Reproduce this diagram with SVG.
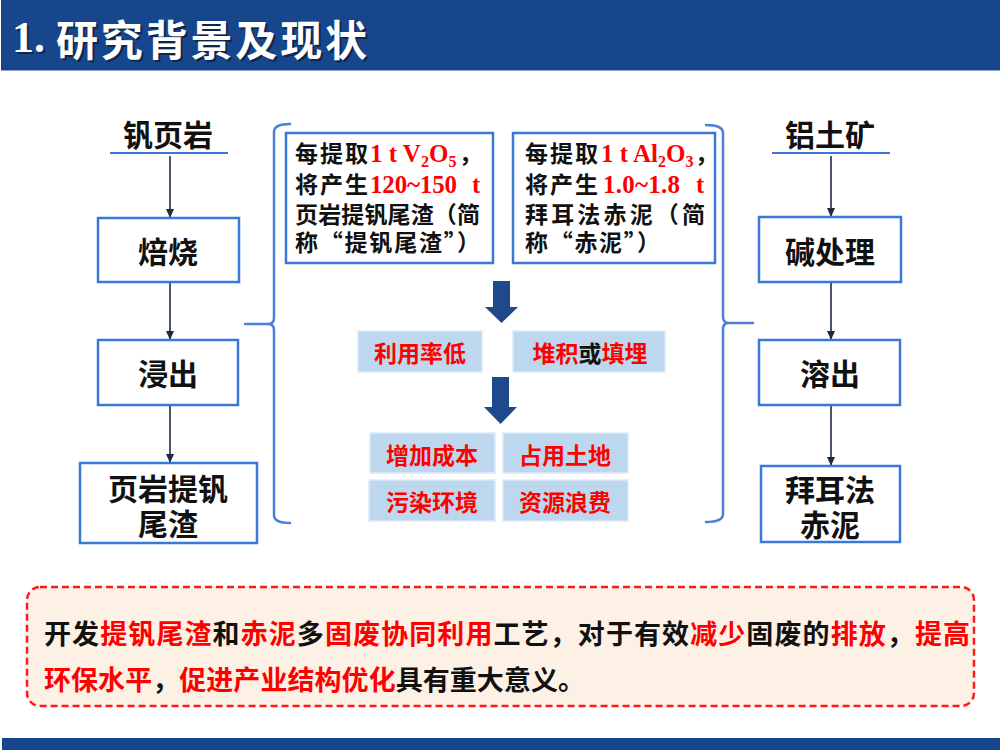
<svg xmlns="http://www.w3.org/2000/svg" width="1000" height="750" viewBox="0 0 1000 750">
<style>
.cjk{font-family:"Noto Sans CJK SC","Noto Sans",sans-serif;font-weight:700}
.ser{font-family:"Liberation Serif","Times New Roman",serif;font-weight:700}
.red{fill:#FF0000}
.node{fill:#FFFFFF;stroke:#3A78D6;stroke-width:2.5}
.tag{fill:#BDD7EE;stroke:#DCEAF8;stroke-width:1.5}
.lbl{font-size:30px;fill:#111111;text-anchor:middle;dominant-baseline:central}
.tagt{font-size:23px;fill:#FF0000;text-anchor:middle;dominant-baseline:central}
.box{font-size:23px;fill:#111111}
.conn{stroke:#1F2A44;stroke-width:1.6;fill:none;marker-end:url(#ah)}
.brace{stroke:#4A80DA;stroke-width:2.5;fill:none;stroke-linecap:round}
.under{stroke:#3A78D6;stroke-width:2}
.barrow{fill:#1E4A8C}
</style>
<defs>
<marker id="ah" markerWidth="10" markerHeight="10" refX="8" refY="5" orient="auto" markerUnits="userSpaceOnUse">
<path d="M0,1 L9,5 L0,9 Z" fill="#1F2A44"/>
</marker>
</defs>
<rect x="0" y="0" width="1000" height="750" fill="#FFFFFF"/>
<g id="header">
<rect x="1" y="0" width="999" height="70" fill="#17468C"/>
<line x1="1" y1="70.5" x2="1000" y2="70.5" stroke="#8FA6C9" stroke-width="1"/>
<g opacity="0.45" transform="translate(2,2)">
<text x="12" y="52" class="ser" font-size="44" fill="#000">1.</text>
<text x="56" y="37" class="cjk" font-size="42" fill="#000" dominant-baseline="central" textLength="311" lengthAdjust="spacing">研究背景及现状</text>
</g>
<text x="12" y="52" class="ser" font-size="44" fill="#FFFFFF">1.</text>
<text x="56" y="37" class="cjk" font-size="42" fill="#FFFFFF" dominant-baseline="central" textLength="311" lengthAdjust="spacing">研究背景及现状</text>
</g>
<rect id="footer-bar" x="2" y="738" width="998" height="12" fill="#17468C"/>

<g id="connectors">
<line class="conn" x1="170" y1="156" x2="170" y2="217"/>
<line class="conn" x1="170" y1="282" x2="170" y2="339"/>
<line class="conn" x1="170" y1="405" x2="170" y2="462"/>
<line class="conn" x1="831" y1="156" x2="831" y2="216"/>
<line class="conn" x1="831" y1="282" x2="831" y2="339"/>
<line class="conn" x1="831" y1="405" x2="831" y2="465"/>
<path class="brace" d="M290,124 Q274,124 274,132 V318 Q274,324 268,324 H245 M268,324 Q274,324 274,330 V515 Q274,523 290,523"/>
<path class="brace" d="M706,125 Q723,125 723,133 V317 Q723,323 729,323 H753 M729,323 Q723,323 723,329 V514 Q723,522 706,522"/>
<polygon class="barrow" points="493,281 510,281 510,307 518,307 501.5,323 485,307 493,307"/>
<polygon class="barrow" points="492,377 509,377 509,407 517,407 500.5,424 484,407 492,407"/>
</g>

<g id="n-fanyeyan">
<text class="cjk lbl" x="168" y="133">钒页岩</text>
<line class="under" x1="110" y1="153" x2="228" y2="153"/>
</g>
<g id="n-beishao">
<rect class="node" x="98" y="218" width="141" height="64"/>
<text class="cjk lbl" x="168" y="250">焙烧</text>
</g>
<g id="n-jinchu">
<rect class="node" x="98" y="340" width="140" height="65"/>
<text class="cjk lbl" x="168" y="372">浸出</text>
</g>
<g id="n-weizha">
<rect class="node" x="80" y="463" width="177" height="80"/>
<text class="cjk lbl" x="168" y="487">页岩提钒<tspan x="168" y="522">尾渣</tspan></text>
</g>

<g id="n-lvtukuang">
<text class="cjk lbl" x="830" y="133">铝土矿</text>
<line class="under" x1="772" y1="153" x2="890" y2="153"/>
</g>
<g id="n-jianchuli">
<rect class="node" x="759" y="217" width="142" height="65"/>
<text class="cjk lbl" x="830" y="250">碱处理</text>
</g>
<g id="n-rongchu">
<rect class="node" x="759" y="340" width="141" height="65"/>
<text class="cjk lbl" x="830" y="372">溶出</text>
</g>
<g id="n-chini">
<rect class="node" x="761" y="466" width="139" height="76"/>
<text class="cjk lbl" x="830" y="488">拜耳法<tspan x="830" y="523">赤泥</tspan></text>
</g>

<g id="n-info-left">
<rect class="node" x="286" y="133" width="207" height="130"/>
<text class="cjk box"><tspan x="295" y="162" textLength="73" lengthAdjust="spacing">每提取</tspan><tspan class="ser red" font-size="25" x="370" y="162">1 t V</tspan><tspan class="ser red" font-size="16" dy="5">2</tspan><tspan class="ser red" font-size="25" dy="-5">O</tspan><tspan class="ser red" font-size="16" dy="5">5</tspan><tspan x="459" y="162">，</tspan><tspan x="295" y="193" textLength="73" lengthAdjust="spacing">将产生</tspan><tspan class="ser red" font-size="25" x="370" y="193" textLength="87" lengthAdjust="spacing">120~150</tspan><tspan class="ser red" font-size="25" x="472" y="193">t</tspan><tspan x="295" y="223" textLength="185" lengthAdjust="spacing">页岩提钒尾渣（简</tspan><tspan x="295" y="251" textLength="185" lengthAdjust="spacing">称“提钒尾渣”）</tspan></text>
</g>
<g id="n-info-right">
<rect class="node" x="513" y="133" width="202" height="130"/>
<text class="cjk box"><tspan x="525" y="162" textLength="73" lengthAdjust="spacing">每提取</tspan><tspan class="ser red" font-size="25" x="601" y="162">1 t Al</tspan><tspan class="ser red" font-size="16" dy="5">2</tspan><tspan class="ser red" font-size="25" dy="-5">O</tspan><tspan class="ser red" font-size="16" dy="5">3</tspan><tspan x="695" y="162">，</tspan><tspan x="525" y="193" textLength="73" lengthAdjust="spacing">将产生</tspan><tspan class="ser red" font-size="25" x="603" y="193" textLength="77" lengthAdjust="spacing">1.0~1.8</tspan><tspan class="ser red" font-size="25" x="696" y="193">t</tspan><tspan x="525" y="223" textLength="180" lengthAdjust="spacing">拜耳法赤泥（简</tspan><tspan x="525" y="251" textLength="135" lengthAdjust="spacing">称“赤泥”）</tspan></text>
</g>

<g id="n-liyonglvdi">
<rect class="tag" x="358" y="331" width="124" height="41"/>
<text class="cjk tagt" x="420" y="352">利用率低</text>
</g>
<g id="n-duiji">
<rect class="tag" x="513" y="331" width="152" height="41"/>
<text class="cjk tagt" x="590" y="352">堆积<tspan fill="#111111">或</tspan>填埋</text>
</g>
<g id="n-zengjia">
<rect class="tag" x="370" y="433" width="125" height="40"/>
<text class="cjk tagt" x="432" y="454">增加成本</text>
</g>
<g id="n-zhanyong">
<rect class="tag" x="503" y="433" width="125" height="40"/>
<text class="cjk tagt" x="565" y="454">占用土地</text>
</g>
<g id="n-wuran">
<rect class="tag" x="369" y="480" width="126" height="41"/>
<text class="cjk tagt" x="432" y="501">污染环境</text>
</g>
<g id="n-ziyuan">
<rect class="tag" x="503" y="480" width="125" height="41"/>
<text class="cjk tagt" x="565" y="501">资源浪费</text>
</g>

<g id="n-conclusion">
<rect x="27" y="587" width="947" height="119" rx="13" ry="13" fill="#FDF0E5" stroke="#FF1A1A" stroke-width="2.5" stroke-dasharray="7,4"/>
<text class="cjk" font-size="27" x="44" y="632" dominant-baseline="central" fill="#111111" textLength="926" lengthAdjust="spacing">开发<tspan fill="#FF0000">提钒尾渣</tspan>和<tspan fill="#FF0000">赤泥</tspan>多<tspan fill="#FF0000">固废协同利用</tspan>工艺，对于有效<tspan fill="#FF0000">减少</tspan>固废的<tspan fill="#FF0000">排放</tspan>，<tspan fill="#FF0000">提高</tspan></text>
<text class="cjk" font-size="27" x="44" y="678" dominant-baseline="central" fill="#111111" textLength="541" lengthAdjust="spacing"><tspan fill="#FF0000">环保水平</tspan>，<tspan fill="#FF0000">促进产业结构优化</tspan>具有重大意义。</text>
</g>
</svg>
